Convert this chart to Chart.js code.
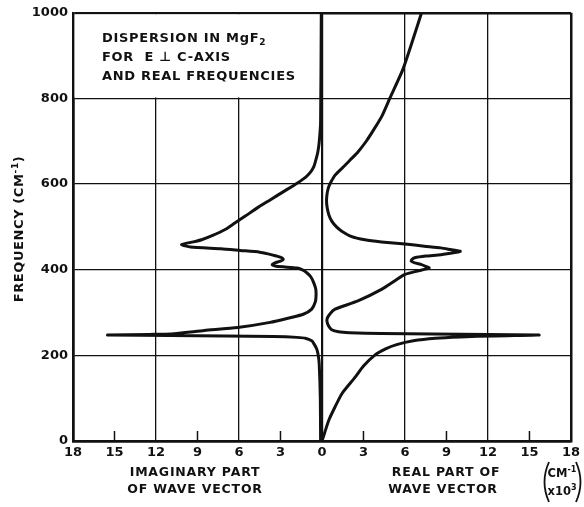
<!DOCTYPE html>
<html>
<head>
<meta charset="utf-8">
<script src="https://cdn.jsdelivr.net/npm/chart.js@4.4.1/dist/chart.umd.min.js"></script>
<style>
  body { margin: 0; background: #fff; }
  #wrap { width: 584px; height: 507px; position: relative; }
</style>
</head>
<body>
<div id="wrap"><canvas id="dispersionChart"></canvas></div>
<script>
// frequency (cm-1) vs imaginary part of wave vector (x10^3 cm-1), drawn to the left
const imagFreq = [0, 100, 180, 200, 215, 228, 234, 240, 242, 244, 245.5, 246.5, 247.5, 249, 250, 258, 265, 277, 288, 296, 308, 325, 339, 355, 370, 383, 393, 400, 404, 408, 412, 416, 420, 424, 428, 432, 437, 441, 445, 449, 453, 459, 465, 470, 480, 494, 509, 524, 545, 563, 583, 602, 617, 629, 640, 652, 675, 698, 745, 1000];
const imagPart = [0.1, 0.12, 0.2, 0.27, 0.38, 0.6, 0.74, 1.2, 1.8, 3.5, 7, 11, 15.5, 12.5, 10.9, 8.5, 6.1, 3.75, 2.3, 1.35, 0.74, 0.48, 0.43, 0.45, 0.6, 0.8, 1.1, 1.45, 1.8, 3.3, 3.6, 3.4, 3.0, 2.8, 2.9, 3.3, 3.9, 4.5, 5.9, 7.3, 9.5, 10.15, 9.3, 8.7, 7.9, 7.0, 6.3, 5.6, 4.65, 3.75, 2.75, 1.8, 1.15, 0.8, 0.6, 0.48, 0.3, 0.2, 0.1, 0.05];

// frequency (cm-1) vs real part of wave vector (x10^3 cm-1), drawn to the right
const realFreq = [0, 20, 49, 80, 111, 149, 175, 200, 215, 225, 234, 240, 243, 245.5, 247.5, 249, 250, 251, 253, 255, 260, 269, 280, 288, 298, 308, 327, 354, 375, 389, 397, 404, 408, 412, 416, 420, 424, 428, 432, 435, 440, 443, 447, 451, 455, 460, 465, 470, 478, 490, 500, 513, 528, 544, 560, 575, 590, 602, 621, 644, 660, 675, 700, 730, 760, 800, 868, 930, 1000];
const realPart = [0, 0.2, 0.5, 0.95, 1.45, 2.4, 3.0, 3.8, 4.6, 5.4, 6.6, 8.2, 10, 12.5, 15.7, 12, 8, 4.3, 2.0, 1.2, 0.7, 0.47, 0.36, 0.4, 0.6, 0.95, 2.6, 4.3, 5.3, 6.0, 6.9, 7.75, 7.5, 7.2, 6.7, 6.45, 6.5, 6.7, 7.5, 8.6, 9.6, 10.0, 9.3, 8.6, 7.4, 6.0, 4.3, 3.1, 2.1, 1.43, 1.05, 0.72, 0.5, 0.38, 0.33, 0.36, 0.45, 0.6, 0.95, 1.67, 2.15, 2.6, 3.2, 3.8, 4.35, 4.9, 5.85, 6.5, 7.2];

const xTickValues = [-18, -15, -12, -9, -6, -3, 0, 3, 6, 9, 12, 15, 18];
const yTickValues = [0, 200, 400, 600, 800, 1000];
const innerTicks = [-15, -9, -3, 3, 9, 15];

const FONT = '"DejaVu Sans", "Liberation Sans", sans-serif';
const INK = '#111';

const imagPoints = imagFreq.map((f, i) => ({ x: -imagPart[i], y: f }));
const realPoints = realFreq.map((f, i) => ({ x: realPart[i], y: f }));

// writes a run of pieces, each piece [text, shift] where shift -1 = superscript, 1 = subscript
function drawRun(ctx, pieces, x, y, size, align) {
  const small = Math.round(size * 0.72);
  let total = 0;
  pieces.forEach(p => {
    ctx.font = 'bold ' + (p[1] ? small : size) + 'px ' + FONT;
    total += ctx.measureText(p[0]).width;
  });
  let cx = align === 'center' ? x - total / 2 : x;
  ctx.textAlign = 'left';
  pieces.forEach(p => {
    ctx.font = 'bold ' + (p[1] ? small : size) + 'px ' + FONT;
    const dy = p[1] === -1 ? -size * 0.35 : p[1] === 1 ? size * 0.3 : 0;
    ctx.fillText(p[0], cx, y + dy);
    cx += ctx.measureText(p[0]).width;
  });
}

// draws the white caption box, inner ticks and all the hand lettering
const decorPlugin = {
  id: 'decor',
  beforeDatasetsDraw(chart) {
    const ctx = chart.ctx;
    const xs = chart.scales.x, ys = chart.scales.y;
    const area = chart.chartArea;
    const x0 = xs.getPixelForValue(0);
    const y800 = ys.getPixelForValue(800);
    ctx.save();
    ctx.fillStyle = '#fff';
    ctx.fillRect(area.left + 1.5, area.top + 1.5, x0 - 1.2 - (area.left + 1.5), y800 - 1 - (area.top + 1.5));
    ctx.strokeStyle = INK;
    ctx.lineWidth = 1.5;
    innerTicks.forEach(v => {
      const px = xs.getPixelForValue(v);
      ctx.beginPath();
      ctx.moveTo(px, area.bottom);
      ctx.lineTo(px, area.bottom - 10);
      ctx.stroke();
    });
    ctx.restore();
  },
  afterDraw(chart) {
    const ctx = chart.ctx;
    ctx.save();
    ctx.fillStyle = INK;
    ctx.textBaseline = 'middle';
    ctx.letterSpacing = '0.7px';

    drawRun(ctx, [['DISPERSION IN MgF', 0], ['2', 1]], 102, 39, 13, 'left');
    drawRun(ctx, [['FOR  E \u22A5 C-AXIS', 0]], 102, 58, 13, 'left');
    drawRun(ctx, [['AND REAL FREQUENCIES', 0]], 102, 77, 13, 'left');

    ctx.letterSpacing = '0.8px';
    drawRun(ctx, [['IMAGINARY PART', 0]], 195, 473, 12.5, 'center');
    drawRun(ctx, [['OF WAVE VECTOR', 0]], 195, 490, 12.5, 'center');
    drawRun(ctx, [['REAL PART OF', 0]], 446, 473, 12.5, 'center');
    drawRun(ctx, [['WAVE VECTOR', 0]], 443, 490, 12.5, 'center');

    ctx.letterSpacing = '0px';
    drawRun(ctx, [['CM', 0], ['-1', -1]], 562, 474, 11.5, 'center');
    drawRun(ctx, [['x10', 0], ['3', -1]], 562, 492, 11.5, 'center');

    // tall parentheses round the unit
    ctx.lineWidth = 1.8;
    ctx.strokeStyle = INK;
    ctx.beginPath();
    ctx.moveTo(549, 462);
    ctx.quadraticCurveTo(540, 482, 549, 502);
    ctx.stroke();
    ctx.beginPath();
    ctx.moveTo(576, 462);
    ctx.quadraticCurveTo(585, 482, 576, 502);
    ctx.stroke();

    ctx.translate(20, 229);
    ctx.rotate(-Math.PI / 2);
    ctx.letterSpacing = '0.6px';
    drawRun(ctx, [['FREQUENCY (CM', 0], ['-1', -1], [')', 0]], 0, 0, 13, 'center');
    ctx.restore();
  }
};

const ctx = document.getElementById('dispersionChart').getContext('2d');

new Chart(ctx, {
  type: 'scatter',
  data: {
    datasets: [{
      label: 'Imaginary part',
      data: imagPoints,
      showLine: true,
      borderColor: INK,
      borderWidth: 3,
      pointRadius: 0,
      tension: 0.2
    }, {
      label: 'Real part',
      data: realPoints,
      showLine: true,
      borderColor: INK,
      borderWidth: 3,
      pointRadius: 0,
      tension: 0.2
    }]
  },
  options: {
    responsive: true,
    maintainAspectRatio: false,
    animation: false,
    layout: { padding: { top: 10, right: 11, left: 0, bottom: 0 } },
    plugins: {
      legend: { display: false },
      tooltip: { enabled: false }
    },
    scales: {
      x: {
        type: 'linear',
        min: -18,
        max: 18,
        afterFit(scale) { scale.height = 66; },
        afterBuildTicks(scale) { scale.ticks = xTickValues.map(v => ({ value: v })); },
        ticks: {
          color: INK,
          padding: 4,
          maxRotation: 0,
          font: { family: FONT, size: 13, weight: 'bold' },
          callback: v => String(Math.abs(v))
        },
        grid: {
          drawTicks: false,
          color: c => (c.tick && c.tick.value % 6 === 0) ? INK : 'rgba(0,0,0,0)',
          lineWidth: c => {
            if (!c.tick) return 1.3;
            const v = c.tick.value;
            if (Math.abs(v) === 18) return 2.5;
            if (v === 0) return 2.2;
            return 1.3;
          }
        },
        border: { display: true, color: INK, width: 2.5 }
      },
      y: {
        type: 'linear',
        min: 0,
        max: 1000,
        afterFit(scale) { scale.width = 73; },
        afterBuildTicks(scale) { scale.ticks = yTickValues.map(v => ({ value: v })); },
        ticks: {
          color: INK,
          padding: 5,
          font: { family: FONT, size: 13, weight: 'bold' },
          callback: v => String(v)
        },
        grid: {
          drawTicks: false,
          color: INK,
          lineWidth: c => (c.tick && (c.tick.value === 0 || c.tick.value === 1000)) ? 2.5 : 1.3
        },
        border: { display: true, color: INK, width: 2.5 }
      }
    }
  },
  plugins: [decorPlugin]
});
</script>
</body>
</html>
